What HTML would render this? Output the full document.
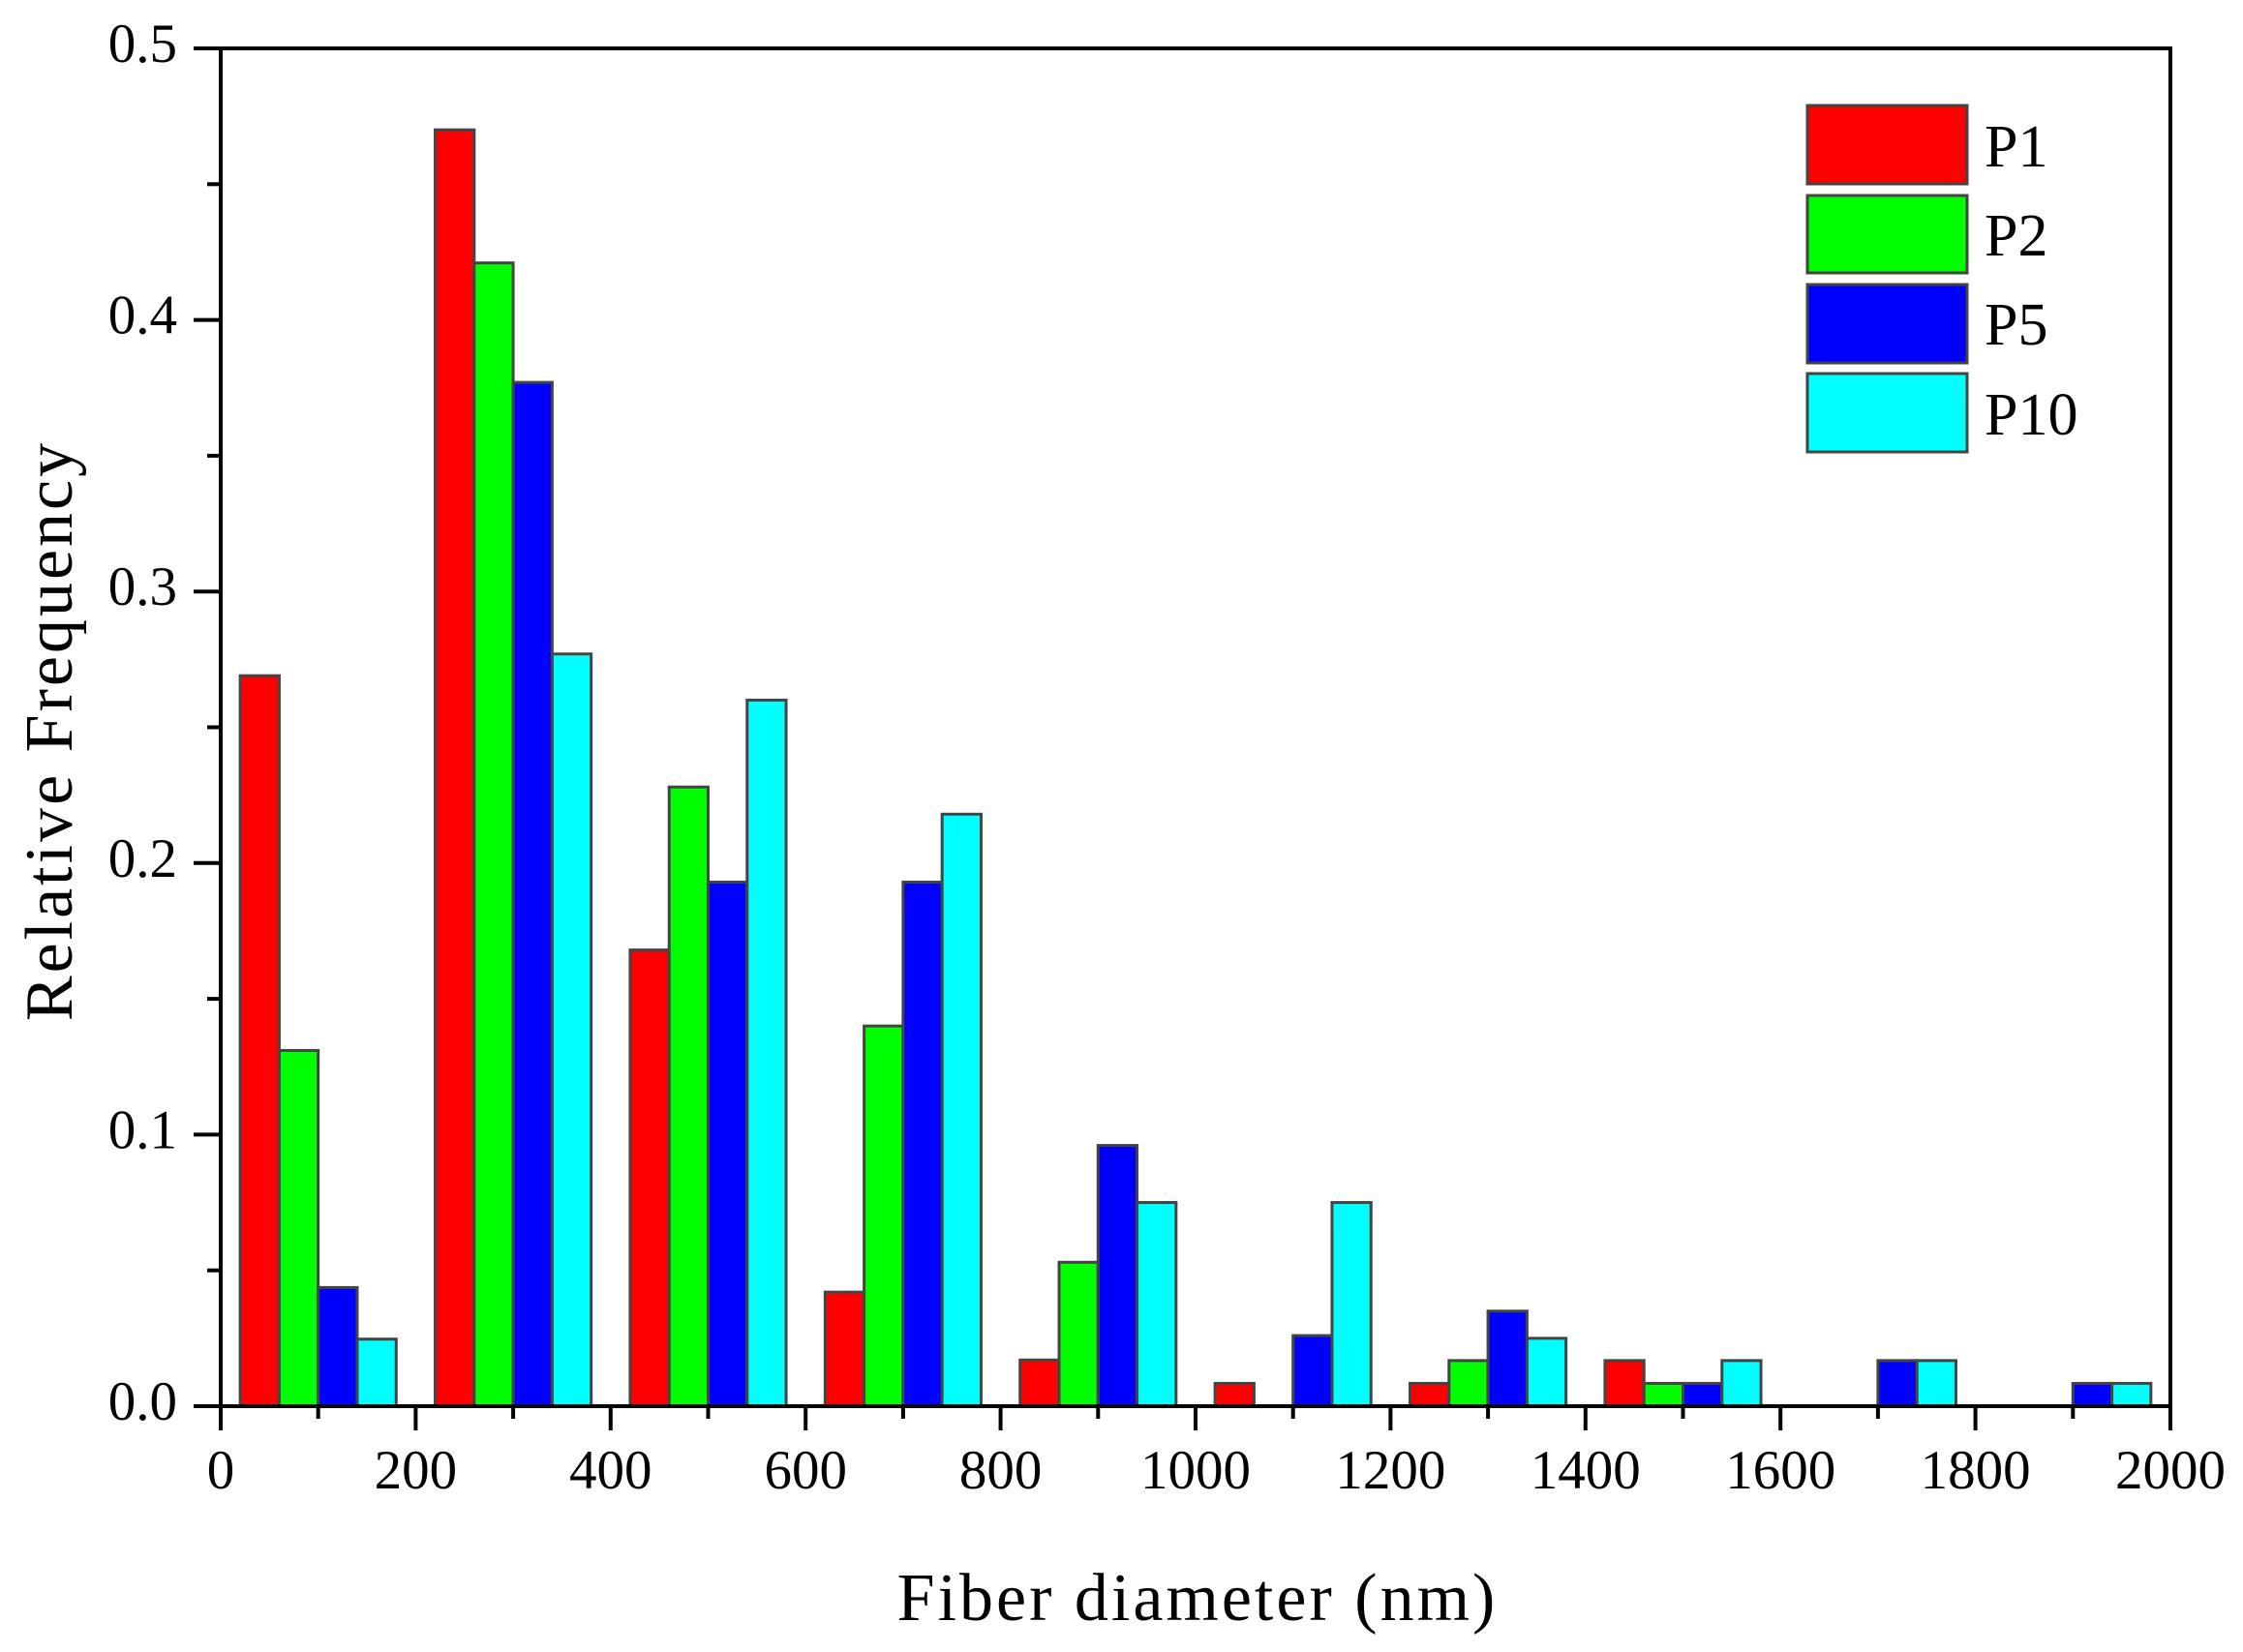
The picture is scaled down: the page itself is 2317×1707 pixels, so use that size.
<!DOCTYPE html>
<html><head><meta charset="utf-8"><style>html,body{margin:0;padding:0;background:#fff}svg{display:block}</style></head>
<body>
<svg width="2317" height="1707" viewBox="0 0 2317 1707" xmlns="http://www.w3.org/2000/svg" font-family="'Liberation Serif', serif">
<rect width="2317" height="1707" fill="#fff"/>
<g id="bars" stroke="#444" stroke-width="3"></g>
<g stroke="#000" stroke-width="4" fill="none">
<rect x="228" y="50" width="2014" height="1403"/>
</g>
<g id="ticks" stroke="#000" stroke-width="4"></g>
<g id="labels" font-size="57" fill="#000"></g>
<text x="1237" y="1674" font-size="70" letter-spacing="3" text-anchor="middle">Fiber diameter (nm)</text>
<text transform="translate(74,755) rotate(-90)" font-size="70" letter-spacing="3" text-anchor="middle">Relative Frequency</text>
<g stroke="#444" stroke-width="3">
<rect x="1867" y="109" width="165" height="81" fill="#ff0000"/>
<rect x="1867" y="202" width="165" height="80" fill="#00ff00"/>
<rect x="1867" y="294" width="165" height="81" fill="#0000ff"/>
<rect x="1867" y="386" width="165" height="81" fill="#00ffff"/>
</g>
<g font-size="62" fill="#000">
<text x="2050" y="172">P1</text>
<text x="2050" y="264">P2</text>
<text x="2050" y="356">P5</text>
<text x="2050" y="449">P10</text>
</g>
<script>
var ns="http://www.w3.org/2000/svg";
function X(d){return 228+d*1.007}
function Y(v){return 1453-v*2806}
var data=[[0.269,0.131,0.0437,0.0247],[0.47,0.421,0.377,0.277],[0.168,0.228,0.193,0.26],[0.042,0.14,0.193,0.218],[0.017,0.053,0.096,0.075],[0.0084,0,0.026,0.075],[0.0084,0.0168,0.035,0.025],[0.0168,0.0084,0.0084,0.0168],[0,0,0.0168,0.0168],[0,0,0.0084,0.0084]];
var cols=["#ff0000","#00ff00","#0000ff","#00ffff"];
var g=document.getElementById("bars");
data.forEach(function(grp,k){grp.forEach(function(v,i){if(v<=0)return;var r=document.createElementNS(ns,"rect");var x0=X(200*k+20+40*i),x1=X(200*k+60+40*i);r.setAttribute("x",x0);r.setAttribute("width",x1-x0);r.setAttribute("y",Y(v));r.setAttribute("height",1453-Y(v));r.setAttribute("fill",cols[i]);g.appendChild(r);});});
var t=document.getElementById("ticks"),L=document.getElementById("labels");
function line(x1,y1,x2,y2){var l=document.createElementNS(ns,"line");l.setAttribute("x1",x1);l.setAttribute("y1",y1);l.setAttribute("x2",x2);l.setAttribute("y2",y2);t.appendChild(l);}
function txt(x,y,s,a){var e=document.createElementNS(ns,"text");e.setAttribute("x",x);e.setAttribute("y",y);e.setAttribute("text-anchor",a);e.textContent=s;L.appendChild(e);}
for(var d=0;d<=2000;d+=100){var x=X(d);if(d%200==0){line(x,1453,x,1478);txt(x,1538,String(d),"middle");}else line(x,1453,x,1466);}
for(var j=0;j<=10;j++){var v=j*0.05,y=Y(v);if(j%2==0){line(200,y,228,y);txt(183,y+14,v.toFixed(1),"end");}else line(214,y,228,y);}
</script>
</svg>
</body></html>
